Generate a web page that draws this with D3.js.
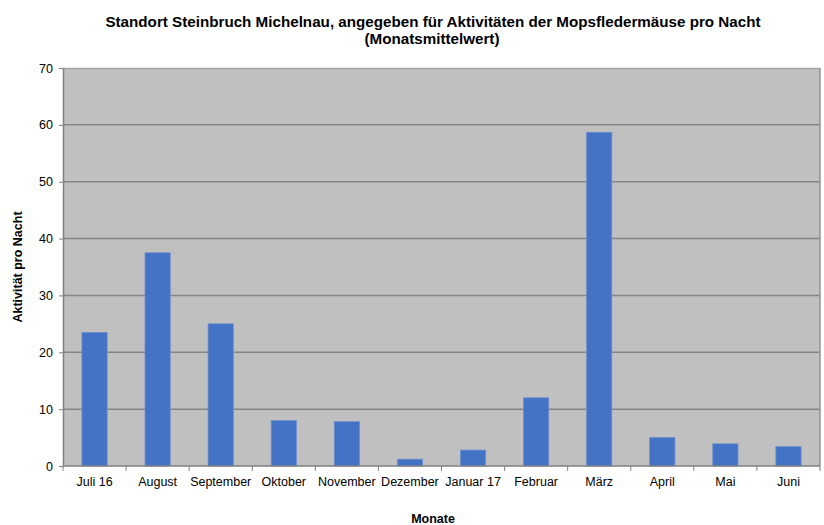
<!DOCTYPE html>
<html lang="de">
<head>
<meta charset="UTF-8">
<title>Standort Steinbruch Michelnau</title>
<script src="https://d3js.org/d3.v7.min.js"></script>
<style>
    body { margin: 0; background: #fff; font-family: "Liberation Sans", Arial, sans-serif; }
    svg text { fill: #000; }
</style>
</head>
<body>
<div id="chart"></div>
<script>
// chart data
const months = ["Juli 16", "August", "September", "Oktober", "November", "Dezember",
                "Januar 17", "Februar", "März", "April", "Mai", "Juni"];
const activity = [23.5, 37.5, 25.0, 8.0, 7.8, 1.2, 2.8, 12.0, 58.7, 5.0, 3.9, 3.4];
const yTicks = [0, 10, 20, 30, 40, 50, 60, 70];

const W = 824, H = 525;
const margin = { top: 68, right: 4, bottom: 59, left: 63 };
const plotW = W - margin.left - margin.right;
const plotH = H - margin.top - margin.bottom;

const svg = d3.select("#chart").append("svg")
    .attr("width", W)
    .attr("height", H);

const g = svg.append("g")
    .attr("transform", `translate(${margin.left},${margin.top})`);

const x = d3.scaleBand()
    .domain(months)
    .range([0, plotW])
    .paddingInner(0.6)
    .paddingOuter(0.3);

const y = d3.scaleLinear()
    .domain([0, 70])
    .range([plotH, 0]);

// plot background
g.append("rect")
    .attr("width", plotW)
    .attr("height", plotH)
    .attr("fill", "#c0c0c0");

// gridlines
g.append("g")
    .selectAll("line")
    .data(yTicks.filter(d => d > 0 && d < 70))
    .join("line")
    .attr("x1", 0)
    .attr("x2", plotW)
    .attr("y1", d => y(d))
    .attr("y2", d => y(d))
    .attr("stroke", "#858585")
    .attr("stroke-width", 1.5);

// plot frame (top and right)
g.append("line").attr("x1", 0).attr("x2", plotW).attr("y1", 0.5).attr("y2", 0.5)
    .attr("stroke", "#a6a6a6").attr("stroke-width", 1.5);
g.append("line").attr("x1", plotW).attr("x2", plotW).attr("y1", 0).attr("y2", plotH)
    .attr("stroke", "#959595").attr("stroke-width", 1.5);

// bars
g.selectAll(".bar")
    .data(activity)
    .join("rect")
    .attr("class", "bar")
    .attr("x", (d, i) => x(months[i]))
    .attr("y", d => y(d))
    .attr("width", x.bandwidth())
    .attr("height", d => plotH - y(d))
    .attr("fill", "#4472c4")
    .attr("stroke", "#6f8fcc")
    .attr("stroke-width", 0.8);

// y axis
const yAxis = g.append("g")
    .call(d3.axisLeft(y).tickValues(yTicks).tickSize(4).tickPadding(6).tickSizeOuter(0));
yAxis.select(".domain").attr("stroke", "#7f7f7f").attr("stroke-width", 1.5);
yAxis.selectAll(".tick line").attr("stroke", "#7f7f7f");
yAxis.selectAll(".tick text")
    .style("font-family", "'Liberation Sans', Arial, sans-serif")
    .style("font-size", "12.5px")
    .attr("fill", "#000");

// x axis: ticks at band boundaries
const xAxis = g.append("g").attr("transform", `translate(0,${plotH})`);
xAxis.append("line")
    .attr("x1", 0).attr("x2", plotW)
    .attr("stroke", "#7f7f7f").attr("stroke-width", 1.5);
xAxis.selectAll(".xtick")
    .data(d3.range(months.length + 1))
    .join("line")
    .attr("class", "xtick")
    .attr("x1", i => i * x.step())
    .attr("x2", i => i * x.step())
    .attr("y1", 0)
    .attr("y2", 5)
    .attr("stroke", "#7f7f7f");
xAxis.selectAll(".xlabel")
    .data(months)
    .join("text")
    .attr("class", "xlabel")
    .attr("x", d => x(d) + x.bandwidth() / 2)
    .attr("y", 20)
    .attr("text-anchor", "middle")
    .style("font-size", "12.5px")
    .text(d => d);

// titles
const title = svg.append("text")
    .attr("text-anchor", "middle")
    .style("font-size", "15.2px")
    .style("font-weight", "bold");
title.append("tspan").attr("x", 433).attr("y", 27)
    .text("Standort Steinbruch Michelnau, angegeben für Aktivitäten der Mopsfledermäuse pro Nacht");
title.append("tspan").attr("x", 432).attr("y", 44)
    .text("(Monatsmittelwert)");

svg.append("text")
    .attr("x", 433)
    .attr("y", 523)
    .attr("text-anchor", "middle")
    .style("font-size", "12.5px")
    .style("font-weight", "bold")
    .text("Monate");

svg.append("text")
    .attr("transform", `translate(22,${margin.top + plotH / 2}) rotate(-90)`)
    .attr("text-anchor", "middle")
    .style("font-size", "12.5px")
    .style("font-weight", "bold")
    .text("Aktivität pro Nacht");
</script>
</body>
</html>
